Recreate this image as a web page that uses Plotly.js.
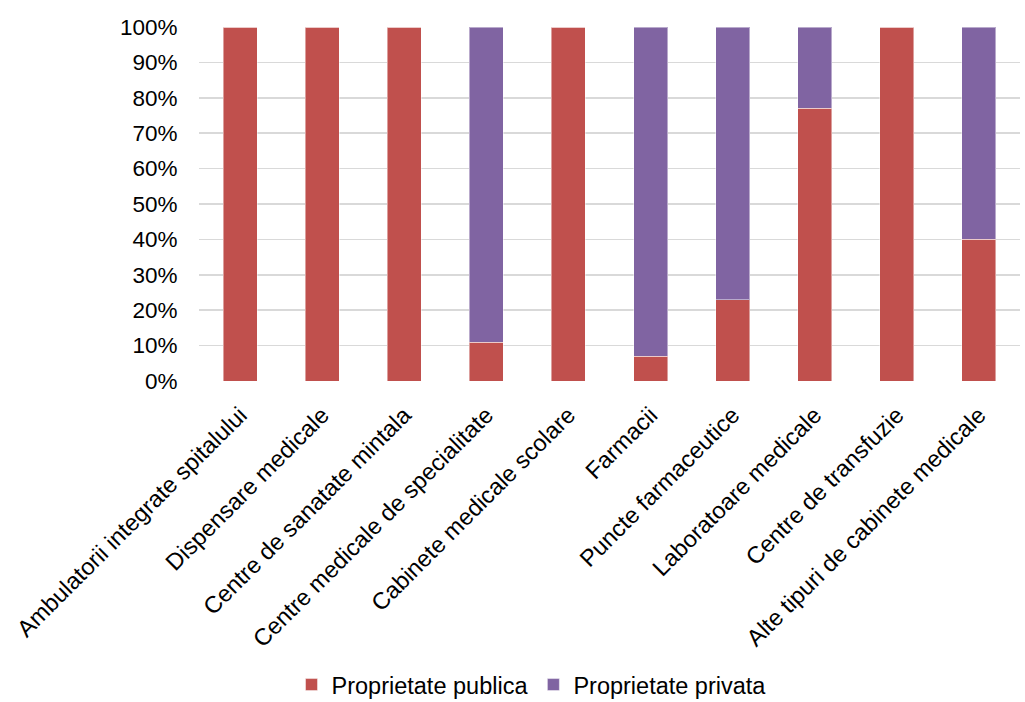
<!DOCTYPE html>
<html>
<head>
<meta charset="utf-8">
<script src="https://cdn.plot.ly/plotly-3.0.1.min.js"></script>
<style>html,body{margin:0;padding:0;background:#fff;}#chart{width:1025px;height:702px;}</style>
</head>
<body>
<div id="chart"></div>
<script>
const categories = [
  "Ambulatorii integrate spitalului",
  "Dispensare medicale",
  "Centre de sanatate mintala",
  "Centre medicale de specialitate",
  "Cabinete medicale scolare",
  "Farmacii",
  "Puncte farmaceutice",
  "Laboratoare medicale",
  "Centre de transfuzie",
  "Alte tipuri de cabinete medicale"
];
const publica = [100, 100, 100, 11, 100, 7, 23, 77, 100, 40];
const privata = [0, 0, 0, 89, 0, 93, 77, 23, 0, 60];
const seriesNames = ["Proprietate publica", "Proprietate privata"];
const tickVals = [0, 10, 20, 30, 40, 50, 60, 70, 80, 90, 100];
const tickText = tickVals.map(v => v + "%");

const fam = "Liberation Sans, Arial, sans-serif";
const yFont = {family: fam, size: 22.5, color: "#000"};
const xFont = {family: fam, size: 23.5, color: "#000"};
const traces = [
  {type: "bar", x: categories, y: publica, name: seriesNames[0],
   marker: {color: "#C0504D", line: {color: "rgba(255,255,255,0.45)", width: 1}}},
  {type: "bar", x: categories, y: privata, name: seriesNames[1],
   marker: {color: "#8064A2", line: {color: "rgba(255,255,255,0.45)", width: 1}}}
];
const layout = {
  width: 1025, height: 702,
  barmode: "stack", bargap: 0.585,
  margin: {l: 199, r: 5, t: 27, b: 321},
  paper_bgcolor: "#fff", plot_bgcolor: "#fff",
  font: yFont,
  showlegend: true,
  legend: {orientation: "h", x: 0.405, xanchor: "center", xref: "paper",
           y: 0.0245, yanchor: "middle", yref: "container",
           font: xFont, traceorder: "normal", itemwidth: 30, tracegroupgap: 0},
  xaxis: {type: "category", tickangle: -45, tickfont: xFont, showgrid: false, zeroline: false,
          showline: false, ticks: "outside", ticklen: 10, tickcolor: "rgba(0,0,0,0)", automargin: false},
  yaxis: {range: [0, 100], tickvals: tickVals, ticktext: tickText, tickfont: yFont,
          showgrid: true, gridcolor: "#d9d9d9", gridwidth: 1.5, zeroline: false,
          showline: false, ticks: "outside", ticklen: 16, tickcolor: "rgba(0,0,0,0)", automargin: false}
};
Plotly.newPlot("chart", traces, layout, {displayModeBar: false, staticPlot: true});
</script>
</body>
</html>
